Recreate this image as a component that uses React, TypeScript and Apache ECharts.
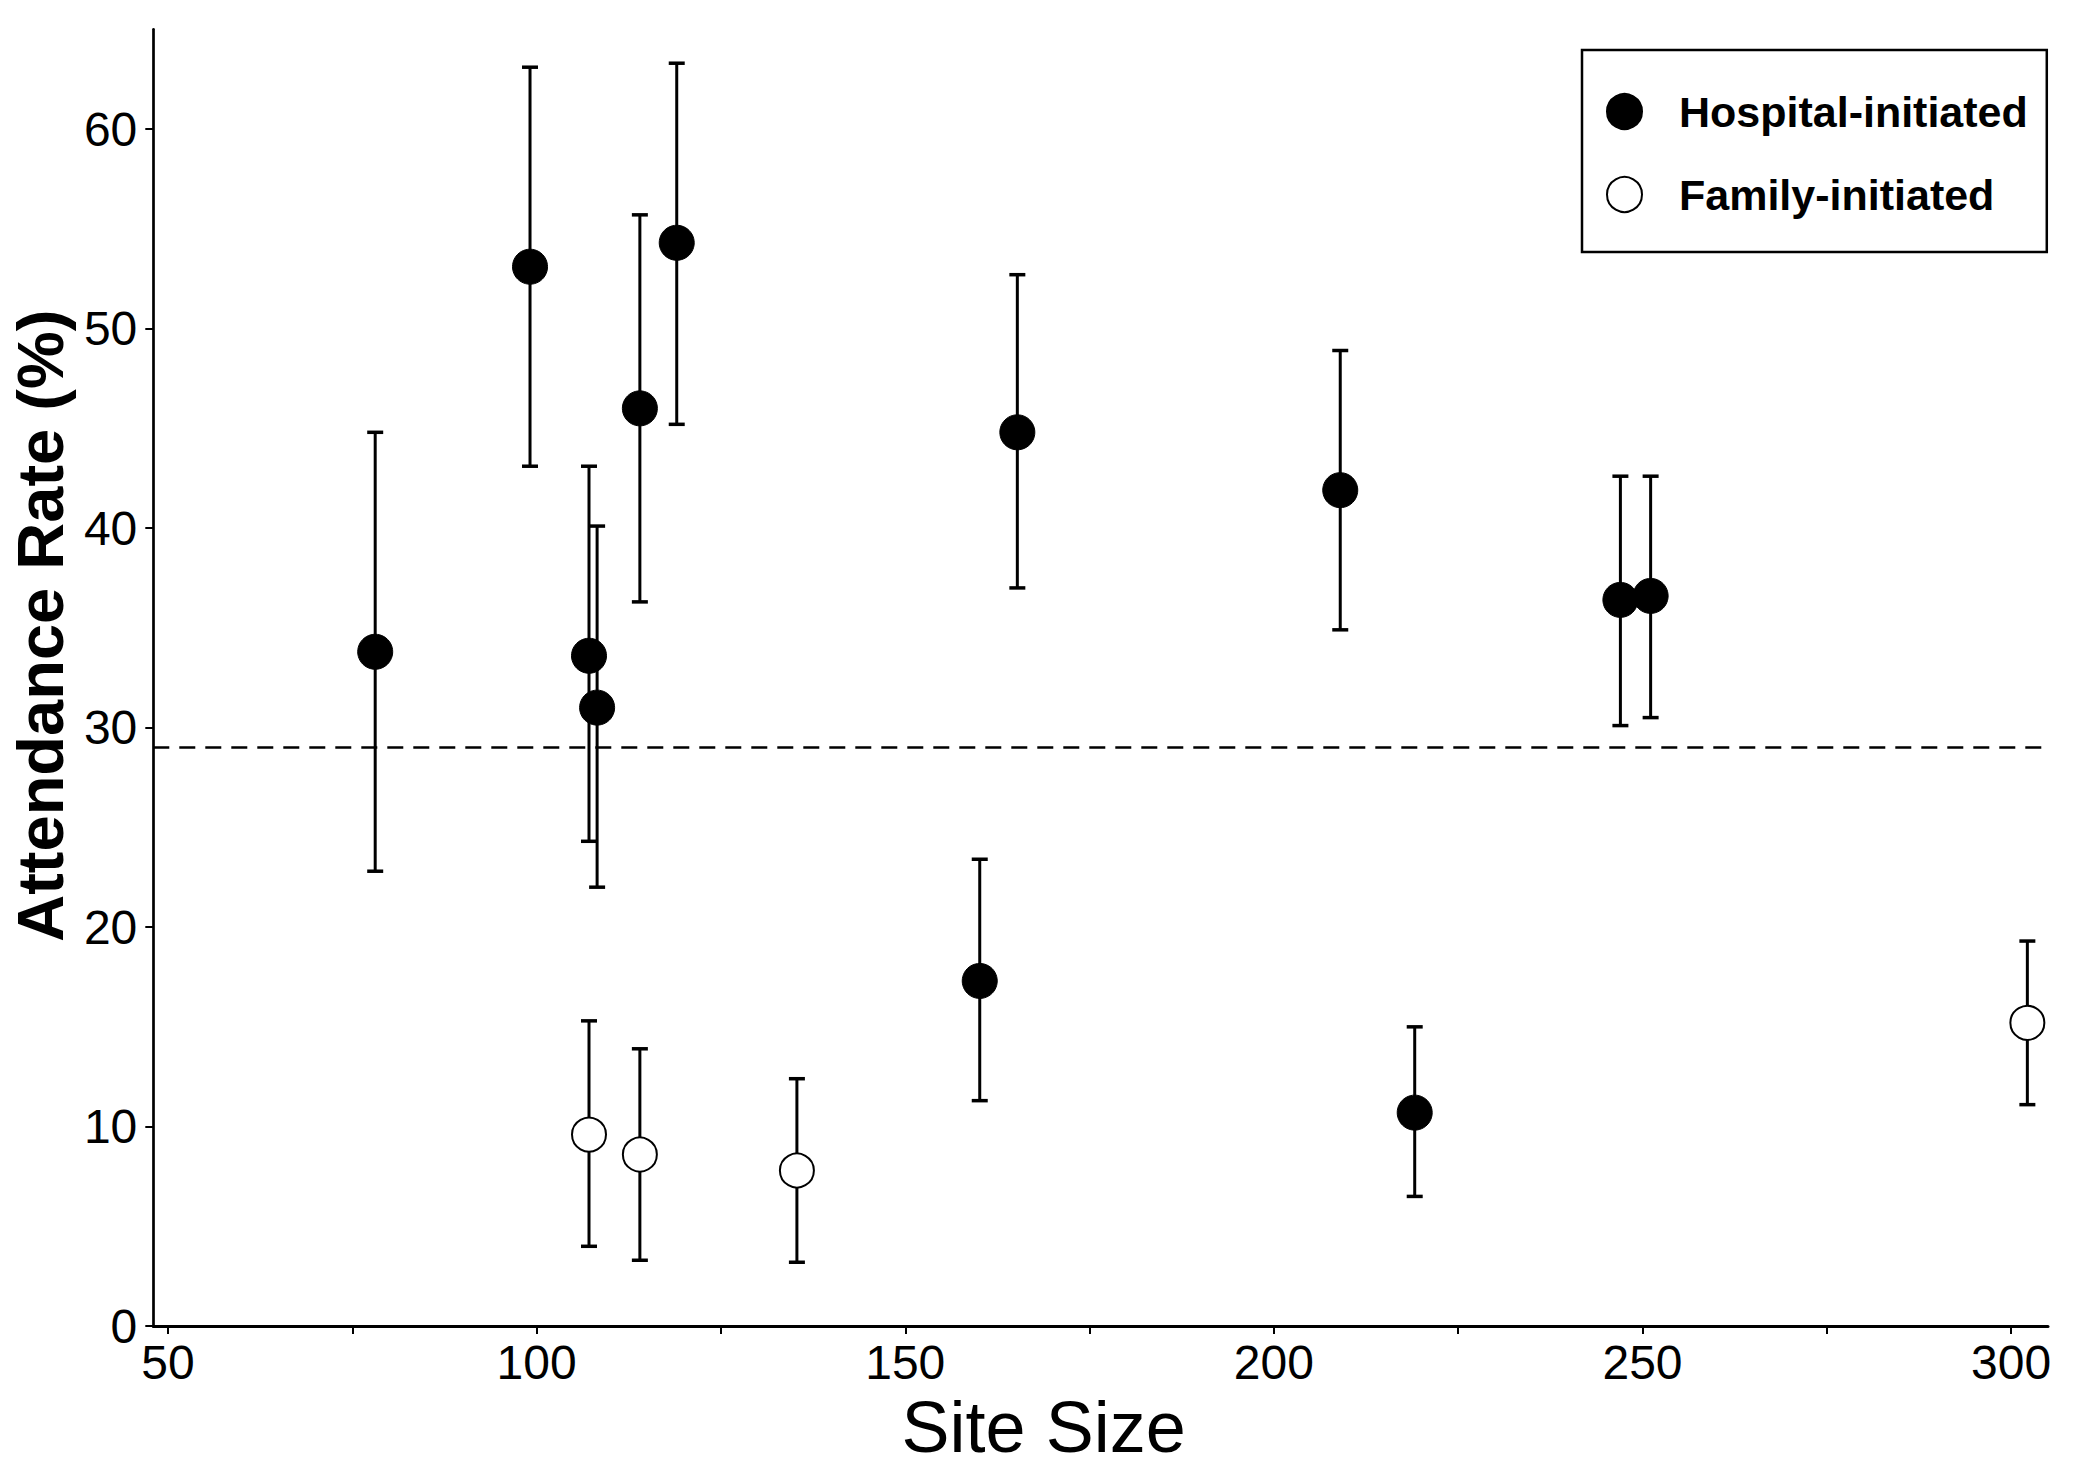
import React, { useEffect, useRef } from "react";
import * as echarts from "echarts";

// Hospital-initiated sites
const hospitalX = [78.1, 99.1, 107.1, 108.2, 114.0, 119.0, 165.2, 209.0, 247.0, 251.1, 160.1, 219.1];
const hospitalY = [33.8, 53.1, 33.6, 31.0, 46.0, 54.3, 44.8, 41.9, 36.4, 36.6, 17.3, 10.7];
const hospitalLow = [22.8, 43.1, 24.3, 22.0, 36.3, 45.2, 37.0, 34.9, 30.1, 30.5, 11.3, 6.5];
const hospitalHigh = [44.8, 63.1, 43.1, 40.1, 55.7, 63.3, 52.7, 48.9, 42.6, 42.6, 23.4, 15.0];

// Family-initiated sites
const familyX = [107.1, 114.0, 135.3, 302.2];
const familyY = [9.6, 8.6, 7.8, 15.2];
const familyLow = [4.0, 3.3, 3.2, 11.1];
const familyHigh = [15.3, 13.9, 12.4, 19.3];

const referenceLine = 29;

const xTicks = [50, 75, 100, 125, 150, 175, 200, 225, 250, 275, 300];
const xLabels = [50, 100, 150, 200, 250, 300];
const yTicks = [0, 10, 20, 30, 40, 50, 60];

const seriesNames = ["Hospital-initiated", "Family-initiated"];

const FONT = "Liberation Sans, Arial, sans-serif";

export default function App() {
  const ref = useRef<HTMLDivElement>(null);

  useEffect(() => {
    if (!ref.current) return;
    const chart = echarts.init(ref.current, undefined, { renderer: "svg" });

    const hospPts = hospitalX.map((x, i) => [x, hospitalY[i]]);
    const famPts = familyX.map((x, i) => [x, familyY[i]]);
    const hospErr = hospitalX.map((x, i) => [x, hospitalLow[i], hospitalHigh[i]]);
    const famErr = familyX.map((x, i) => [x, familyLow[i], familyHigh[i]]);

    const renderErr = (_params: any, api: any) => {
      const x = api.value(0);
      const lo = api.value(1);
      const hi = api.value(2);
      const top = api.coord([x, hi]);
      const bot = api.coord([x, lo]);
      const hw = 8;
      const style = { stroke: "#000", lineWidth: 3 };
      const capStyle = { stroke: "#000", lineWidth: 3.5 };
      return {
        type: "group",
        children: [
          { type: "line", shape: { x1: top[0], y1: top[1], x2: bot[0], y2: bot[1] }, style },
          { type: "line", shape: { x1: top[0] - hw, y1: top[1], x2: top[0] + hw, y2: top[1] }, style: capStyle },
          { type: "line", shape: { x1: bot[0] - hw, y1: bot[1], x2: bot[0] + hw, y2: bot[1] }, style: capStyle },
        ],
      };
    };

    chart.setOption({
      animation: false,
      backgroundColor: "#fff",
      textStyle: { fontFamily: FONT },
      grid: { left: 137.7, top: 29.3, right: 52, bottom: 128.7, containLabel: false },
      legend: {
        data: seriesNames,
        orient: "vertical",
        left: 1582,
        top: 50,
        padding: [40, 19, 36, 24],
        itemGap: 40,
        itemWidth: 35,
        itemHeight: 35,
        icon: "circle",
        borderColor: "#000",
        borderWidth: 2.5,
        selectedMode: false,
        textStyle: {
          fontFamily: FONT,
          fontWeight: "bold",
          fontSize: 43,
          color: "#000",
          padding: [0, 0, 0, 32],
          lineHeight: 35,
        },
      },
      xAxis: {
        type: "value",
        min: 48,
        max: 305,
        name: "Site Size",
        nameLocation: "middle",
        nameGap: 64,
        nameTextStyle: { fontFamily: FONT, fontSize: 72, color: "#000", padding: [0, 114, 0, 0] },
        splitLine: { show: false },
        axisLine: { show: true, onZero: false, lineStyle: { color: "#000", width: 3 } },
        axisTick: { show: true, length: 8, customValues: xTicks, lineStyle: { color: "#000", width: 2 } },
        axisLabel: { customValues: xLabels, fontSize: 48, color: "#000", margin: 12, fontFamily: FONT },
      },
      yAxis: {
        type: "value",
        min: 0,
        max: 65,
        name: "Attendance Rate (%)",
        nameLocation: "middle",
        nameGap: 75,
        nameTextStyle: {
          fontFamily: FONT,
          fontSize: 65,
          fontWeight: "bold",
          color: "#000",
          padding: [0, 0, 0, 104],
        },
        splitLine: { show: false },
        axisLine: { show: true, onZero: false, lineStyle: { color: "#000", width: 2.7 } },
        axisTick: { show: true, length: 8, customValues: yTicks, lineStyle: { color: "#000", width: 2 } },
        axisLabel: { customValues: yTicks, fontSize: 48, color: "#000", margin: 16, fontFamily: FONT },
      },
      series: [
        {
          name: "errHospital",
          type: "custom",
          renderItem: renderErr,
          data: hospErr,
          encode: { x: 0, y: [1, 2] },
          z: 1,
          silent: true,
        },
        {
          name: "errFamily",
          type: "custom",
          renderItem: renderErr,
          data: famErr,
          encode: { x: 0, y: [1, 2] },
          z: 1,
          silent: true,
        },
        {
          name: seriesNames[0],
          type: "scatter",
          data: hospPts,
          symbol: "circle",
          symbolSize: 35,
          itemStyle: { color: "#000", borderColor: "#000", borderWidth: 1, opacity: 1 },
          z: 3,
          markLine: {
            silent: true,
            symbol: "none",
            label: { show: false },
            lineStyle: { color: "#000", type: [16, 10], width: 2.5 },
            data: [{ yAxis: referenceLine }],
          },
        },
        {
          name: seriesNames[1],
          type: "scatter",
          data: famPts,
          symbol: "circle",
          symbolSize: 34,
          itemStyle: { color: "#fff", borderColor: "#000", borderWidth: 2, opacity: 1 },
          z: 3,
        },
      ],
    });

    return () => chart.dispose();
  }, []);

  return (
    <div
      ref={ref}
      style={{ position: "absolute", left: 0, top: 0, width: 2100, height: 1468, background: "#fff" }}
    />
  );
}
